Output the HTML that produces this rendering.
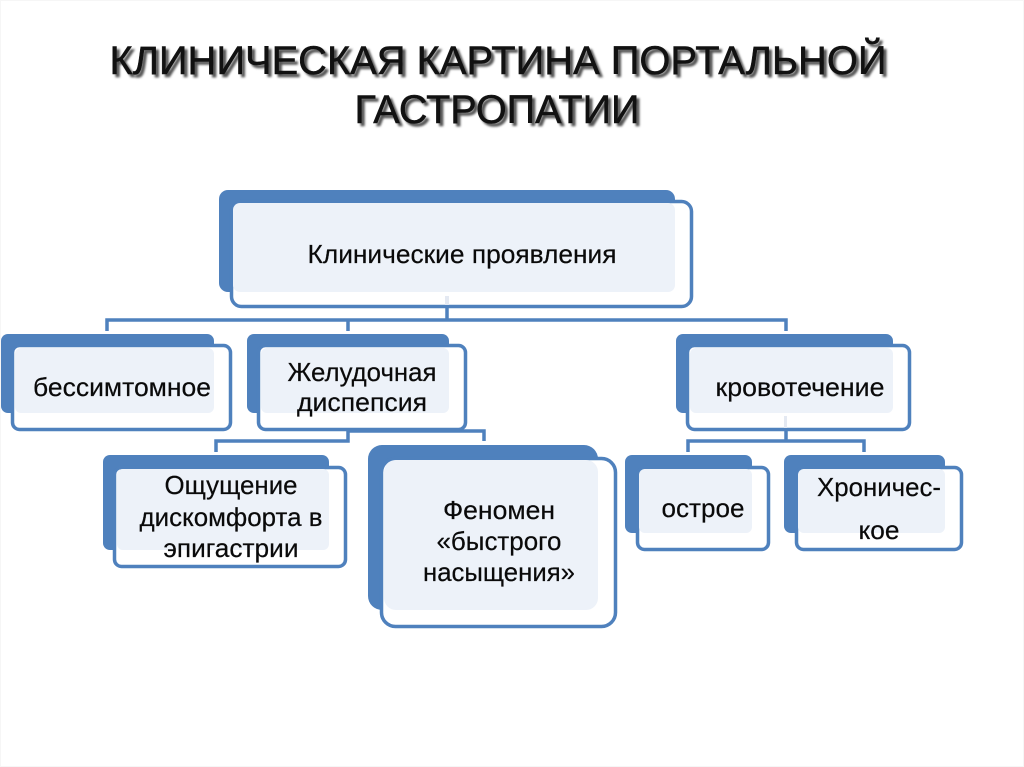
<!DOCTYPE html>
<html><head><meta charset="utf-8"><style>
html,body{margin:0;padding:0;background:#fff;width:1024px;height:767px;overflow:hidden}
svg{display:block}
text{font-family:"Liberation Sans",sans-serif;fill:#0a0a0a;text-anchor:middle}
.b{font-size:26px;stroke:#0a0a0a;stroke-width:.2}
.t{font-size:40px;fill:#111;stroke:#111;stroke-width:.5}
.s{font-size:40px;fill:#555;stroke:#555;stroke-width:.6;filter:url(#bl)}
</style></head><body>
<svg width="1024" height="767" viewBox="0 0 1024 767" xmlns="http://www.w3.org/2000/svg">
<defs><filter id="bl"><feGaussianBlur stdDeviation="1"/></filter></defs>
<rect x="0.5" y="0.5" width="1023" height="766" fill="#fff" stroke="#f6f6f6"/>

<text class="s" x="501" y="77" textLength="777" lengthAdjust="spacingAndGlyphs">КЛИНИЧЕСКАЯ КАРТИНА ПОРТАЛЬНОЙ</text>
<text class="s" x="500" y="126" textLength="285" lengthAdjust="spacingAndGlyphs">ГАСТРОПАТИИ</text>
<text class="t" x="498" y="74" textLength="777" lengthAdjust="spacingAndGlyphs">КЛИНИЧЕСКАЯ КАРТИНА ПОРТАЛЬНОЙ</text>
<text class="t" x="497" y="123" textLength="285" lengthAdjust="spacingAndGlyphs">ГАСТРОПАТИИ</text>

<g fill="none" stroke="#4f81bd" stroke-width="3.5">
<path d="M447 306V320M107 331V320H786V331M348 320V331"/>
<path d="M216 452V441H348V431H484V441"/>
<path d="M786 430V441M688 452V441H864V452"/>
</g>

<!-- Box 1 -->
<rect x="219" y="190" width="456" height="102" rx="9" fill="#4f81bd"/>
<rect x="231.500" y="201.500" width="460" height="105" rx="10" fill="#fff" stroke="#4f81bd" stroke-width="3.5"/>
<rect x="233" y="203" width="442" height="89" rx="7" fill="#edf2f9"/>
<rect x="445" y="296" width="4" height="9" fill="#e4e9f2"/>
<text class="b" x="462" y="263" textLength="309" lengthAdjust="spacingAndGlyphs">Клинические проявления</text>

<!-- Box 2 -->
<rect x="1" y="334" width="213" height="79" rx="7" fill="#4f81bd"/>
<rect x="12.500" y="345.500" width="218" height="84" rx="7" fill="#fff" stroke="#4f81bd" stroke-width="3.5"/>
<rect x="15" y="348" width="199" height="65" rx="6" fill="#edf2f9"/>
<text class="b" x="122" y="396" textLength="178" lengthAdjust="spacingAndGlyphs">бессимтомное</text>

<!-- Box 3 -->
<rect x="247" y="334" width="202" height="79" rx="7" fill="#4f81bd"/>
<rect x="258.500" y="345.500" width="207" height="84" rx="7" fill="#fff" stroke="#4f81bd" stroke-width="3.5"/>
<rect x="261" y="348" width="188" height="65" rx="6" fill="#edf2f9"/>
<text class="b" x="362" y="381" textLength="149" lengthAdjust="spacingAndGlyphs">Желудочная</text>
<text class="b" x="362" y="411" textLength="130" lengthAdjust="spacingAndGlyphs">диспепсия</text>

<!-- Box 4 -->
<rect x="676" y="334" width="217" height="79" rx="7" fill="#4f81bd"/>
<rect x="687.500" y="345.500" width="222" height="84" rx="7" fill="#fff" stroke="#4f81bd" stroke-width="3.5"/>
<rect x="690" y="348" width="203" height="65" rx="6" fill="#edf2f9"/>
<rect x="784" y="416" width="3" height="12" fill="#e4e9f2"/>
<text class="b" x="800" y="396" textLength="169" lengthAdjust="spacingAndGlyphs">кровотечение</text>

<!-- Box 5 -->
<rect x="103" y="455" width="226" height="95" rx="7" fill="#4f81bd"/>
<rect x="114.500" y="467.500" width="231" height="99" rx="7" fill="#fff" stroke="#4f81bd" stroke-width="3.5"/>
<rect x="117" y="469" width="212" height="81" rx="6" fill="#edf2f9"/>
<text class="b" x="231" y="494" textLength="133" lengthAdjust="spacingAndGlyphs">Ощущение</text>
<text class="b" x="231" y="526" textLength="183" lengthAdjust="spacingAndGlyphs">дискомфорта в</text>
<text class="b" x="231" y="557" textLength="135" lengthAdjust="spacingAndGlyphs">эпигастрии</text>

<!-- Box 6 -->
<rect x="368" y="445" width="230" height="165" rx="14" fill="#4f81bd"/>
<rect x="381.500" y="458.500" width="234" height="168" rx="14" fill="#fff" stroke="#4f81bd" stroke-width="3.5"/>
<rect x="384" y="460" width="214" height="150" rx="12" fill="#edf2f9"/>
<text class="b" x="499" y="519" textLength="112" lengthAdjust="spacingAndGlyphs">Феномен</text>
<text class="b" x="499" y="550" textLength="125" lengthAdjust="spacingAndGlyphs">«быстрого</text>
<text class="b" x="499" y="581" textLength="152" lengthAdjust="spacingAndGlyphs">насыщения»</text>

<!-- Box 7 -->
<rect x="625" y="455" width="127" height="78" rx="7" fill="#4f81bd"/>
<rect x="637.500" y="467.500" width="131" height="82" rx="7" fill="#fff" stroke="#4f81bd" stroke-width="3.5"/>
<rect x="639" y="469" width="113" height="64" rx="6" fill="#edf2f9"/>
<text class="b" x="703" y="517" textLength="83" lengthAdjust="spacingAndGlyphs">острое</text>

<!-- Box 8 -->
<rect x="784" y="455" width="161" height="78" rx="7" fill="#4f81bd"/>
<rect x="796.500" y="467.500" width="165" height="82" rx="7" fill="#fff" stroke="#4f81bd" stroke-width="3.5"/>
<rect x="798" y="469" width="147" height="64" rx="6" fill="#edf2f9"/>
<text class="b" x="879" y="496" textLength="124" lengthAdjust="spacingAndGlyphs">Хроничес-</text>
<text class="b" x="879" y="539" textLength="41" lengthAdjust="spacingAndGlyphs">кое</text>
</svg>
</body></html>
